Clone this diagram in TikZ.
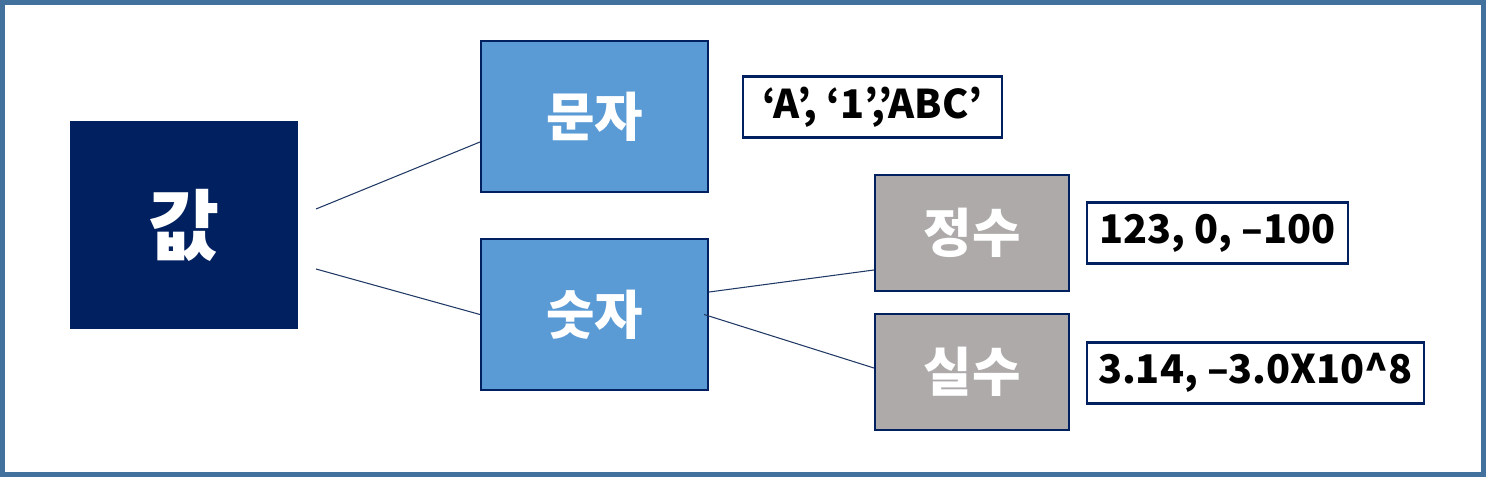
\documentclass[tikz,border=0pt]{standalone}
\usepackage{fontspec}
\setmainfont{Noto Sans CJK KR}[BoldFont={* Black}]
\definecolor{frameblue}{HTML}{41719C}
\definecolor{navy}{HTML}{002060}
\definecolor{edgenavy}{HTML}{203864}
\definecolor{midblue}{HTML}{5B9BD5}
\definecolor{greybox}{HTML}{AEAAAA}

\tikzset{
  valbox/.style={fill=navy, text=white, minimum width=4.56cm, minimum height=4.16cm,
    font=\fontsize{44}{44}\selectfont\bfseries},
  typebox/.style={fill=midblue, draw=navy, line width=1.2pt, text=white,
    minimum width=4.54cm, minimum height=3.02cm, font=\fontsize{30}{30}\selectfont\bfseries},
  subbox/.style={fill=greybox, draw=navy, line width=1.2pt, text=white,
    minimum width=3.88cm, minimum height=2.32cm, font=\fontsize{30}{30}\selectfont\bfseries},
  exbox/.style={draw=navy, line width=1.2pt, minimum height=1.22cm,
    font=\fontsize{22.5}{22.5}\selectfont\bfseries},
  link/.style={draw=edgenavy, line width=0.6pt}
}

\begin{document}
\begin{tikzpicture}[x=0.02cm,y=-0.02cm]
 \useasboundingbox (0,0) rectangle (1486,477);
 \draw[frameblue, line width=0.1cm] (2.5,2.5) rectangle (1483.5,474.5);

 \node[valbox] (val) at (184,225) {값};
 \node[typebox] (munja) at (594.5,116.5) {문자};
 \node[typebox] (sutja) at (594.5,314.5) {숫자};
 \node[subbox] (jeongsu) at (972,233) {정수};
 \node[subbox] (silsu) at (972,372) {실수};

 \node[exbox, minimum width=5.18cm] (exmunja) at (872.5,107) {‘A’, ‘1’,’ABC’};
 \node[exbox, minimum width=5.22cm] (exjeongsu) at (1217.5,233) {123, 0, –100};
 \node[exbox, minimum width=6.74cm] (exsilsu) at (1255.5,373) {3.14, –3.0X10\^{}8};

 \coordinate (v1) at (316,209);
 \coordinate (v2) at (316,269);
 \draw[link] (v1) -- ([yshift=-0.51cm]munja.west);
 \draw[link] (v2) -- (sutja.west);
 \draw[link] ([yshift=0.45cm]sutja.east) -- ([yshift=-0.74cm]jeongsu.west);
 \draw[link] ([xshift=-0.1cm]sutja.east) -- ([yshift=0.08cm]silsu.west);
\end{tikzpicture}
\end{document}
